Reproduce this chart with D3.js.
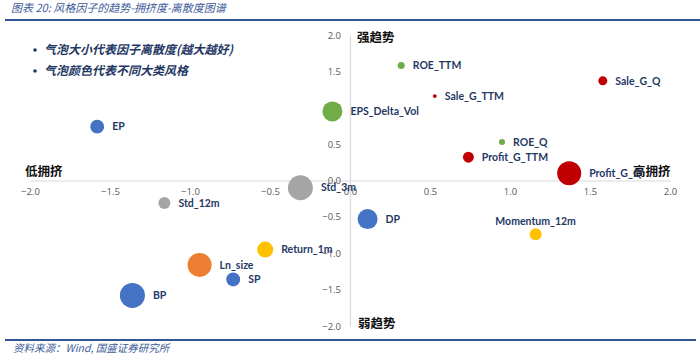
<!DOCTYPE html>
<html>
<head>
<meta charset="utf-8">
<script src="https://cdn.jsdelivr.net/npm/d3@7"></script>
<style>
  body { margin: 0; background: #fff; }
  svg { display: block; }
</style>
</head>
<body>
<svg class="chart"></svg>
<script>
// Factor names, trend (y), crowding (x), dispersion (bubble size), style group
var factors    = ["EP", "EPS_Delta_Vol", "ROE_TTM", "Sale_G_TTM", "Sale_G_Q", "ROE_Q", "Profit_G_TTM", "Profit_G_Q",
                  "Std_3m", "Std_12m", "DP", "Momentum_12m", "Return_1m", "Ln_size", "SP", "BP"];
var crowding   = [-1.58, -0.11, 0.32, 0.53, 1.58, 0.95, 0.74, 1.37, -0.31, -1.16, 0.11, 1.16, -0.53, -0.94, -0.73, -1.36];
var trend      = [0.74, 0.95, 1.58, 1.16, 1.37, 0.53, 0.32, 0.10, -0.10, -0.31, -0.53, -0.74, -0.95, -1.16, -1.36, -1.58];
var dispersion = [0.31, 0.64, 0.08, 0.025, 0.13, 0.06, 0.19, 0.92, 1.0, 0.23, 0.64, 0.23, 0.41, 0.92, 0.31, 1.0];
var groups     = ["value", "quality", "quality", "growth", "growth", "quality", "growth", "growth",
                  "volatility", "volatility", "value", "momentum", "momentum", "size", "value", "value"];

var xTicks = [-2.0, -1.5, -1.0, -0.5, 0.0, 0.5, 1.0, 1.5, 2.0];
var yTicks = [-2.0, -1.5, -1.0, -0.5, 0.0, 0.5, 1.0, 1.5, 2.0];

var groupColors = {value: "#4472C4", quality: "#70AD47", growth: "#C00000",
                   volatility: "#A5A5A5", momentum: "#FFC000", size: "#ED7D31"};

window.onload = function () {
    var width = 700, height = 357;
    var svg = d3.select("svg.chart").attr("width", width).attr("height", height);

    var x = d3.scaleLinear().domain([-2, 2]).range([30, 670]);
    var y = d3.scaleLinear().domain([-2, 2]).range([326, 35]);
    var r = d3.scaleSqrt().domain([0, 1]).range([0, 12.5]);
    var color = d3.scaleOrdinal().domain(Object.keys(groupColors)).range(Object.values(groupColors));

    // title and frame lines
    svg.append("text").attr("x", 11).attr("y", 12)
        .attr("font-family", "'Noto Sans CJK SC', sans-serif").attr("font-size", 11)
        .attr("font-style", "italic").attr("fill", "#3E5C9A")
        .text("图表 20:  风格因子的趋势-拥挤度-离散度图谱");
    svg.append("line").attr("x1", 5).attr("x2", 700).attr("y1", 20).attr("y2", 20)
        .attr("stroke", "#2F5597").attr("stroke-width", 2);
    svg.append("line").attr("x1", 5).attr("x2", 696).attr("y1", 340).attr("y2", 340)
        .attr("stroke", "#2F5597").attr("stroke-width", 2);
    svg.append("text").attr("x", 13).attr("y", 352)
        .attr("font-family", "'Noto Sans CJK SC', sans-serif").attr("font-size", 10.5)
        .attr("font-style", "italic").attr("fill", "#3E5C9A")
        .text("资料来源：Wind, 国盛证券研究所");

    // axes through the origin
    var xAxis = svg.append("g").attr("transform", "translate(0," + y(0) + ")")
        .call(d3.axisBottom(x).tickValues(xTicks).tickFormat(d3.format(".1f")).tickSize(0).tickPadding(8));
    var yAxis = svg.append("g").attr("transform", "translate(" + x(0) + ",0)")
        .call(d3.axisLeft(y).tickValues(yTicks).tickFormat(d3.format(".1f")).tickSize(0).tickPadding(9));
    [xAxis, yAxis].forEach(function (a) {
        a.select(".domain").attr("stroke", "#D9D9D9").attr("stroke-width", 1.2);
        a.selectAll("text").attr("font-family", "'Open Sans', sans-serif").attr("font-size", 9.5).attr("fill", "#595959");
    });

    // legend notes
    var notes = ["气泡大小代表因子离散度(越大越好)", "气泡颜色代表不同大类风格"];
    notes.forEach(function (t, i) {
        var g = svg.append("g").attr("transform", "translate(35," + (50 + i * 21) + ")");
        g.append("circle").attr("cx", 0).attr("cy", 0).attr("r", 1.8).attr("fill", "#1F3864");
        g.append("text").attr("x", 9).attr("y", 4)
            .attr("font-family", "'Noto Sans CJK SC', sans-serif").attr("font-size", 12)
            .attr("font-style", "italic").attr("font-weight", "bold").attr("fill", "#1F3864")
            .text(t);
    });

    // quadrant labels
    var quads = [{t: "强趋势", x: 357, y: 42}, {t: "弱趋势", x: 358, y: 328},
                 {t: "低拥挤", x: 25, y: 176}, {t: "高拥挤", x: 633, y: 176}];
    quads.forEach(function (q) {
        svg.append("text").attr("x", q.x).attr("y", q.y)
            .attr("font-family", "'Noto Sans CJK SC', sans-serif").attr("font-size", 12.5)
            .attr("font-weight", "bold").attr("fill", "#111").text(q.t);
    });

    // bubbles
    var data = factors.map(function (f, i) {
        return {name: f, x: crowding[i], y: trend[i], s: dispersion[i], g: groups[i]};
    });
    var nodes = svg.append("g").selectAll("g").data(data).enter().append("g")
        .attr("transform", function (d) { return "translate(" + x(d.x) + "," + y(d.y) + ")"; });
    nodes.append("circle").attr("r", function (d) { return r(d.s); })
        .attr("fill", function (d) { return color(d.g); });
    nodes.append("text")
        .attr("x", function (d) { return d.name === "Momentum_12m" ? 0 : r(d.s) + 8; })
        .attr("y", function (d) { return d.name === "Momentum_12m" ? -r(d.s) - 7 : 0; })
        .attr("dy", "0.35em")
        .attr("text-anchor", function (d) { return d.name === "Momentum_12m" ? "middle" : "start"; })
        .attr("font-family", "Lato, sans-serif").attr("font-size", 10.5).attr("font-weight", "bold")
        .attr("fill", "#1F3864")
        .text(function (d) { return d.name; });
};
</script>
</body>
</html>
